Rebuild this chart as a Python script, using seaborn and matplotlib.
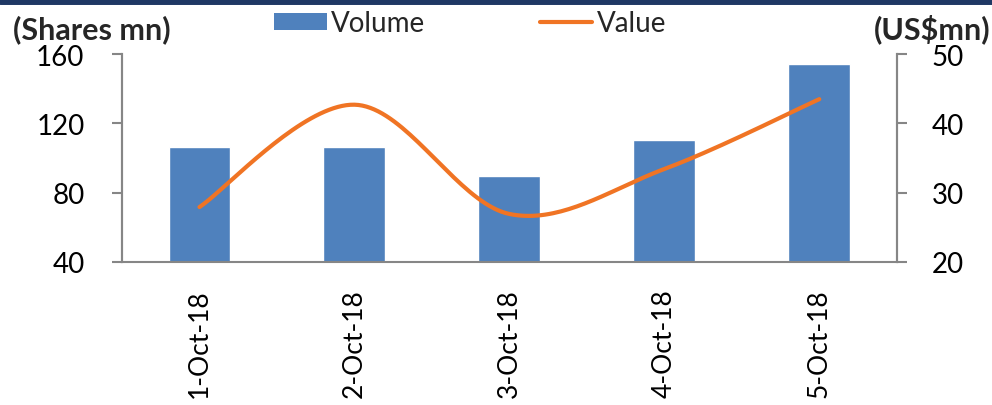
import numpy as np
import pandas as pd
import matplotlib
matplotlib.use("Agg")
import matplotlib.pyplot as plt
from matplotlib.lines import Line2D
from matplotlib.patches import Patch
import seaborn as sns

# Daily trading data
dates = ["1-Oct-18", "2-Oct-18", "3-Oct-18", "4-Oct-18", "5-Oct-18"]
volume = [106.5, 106.5, 89.8, 110.6, 154.4]   # shares mn
value = [27.9, 42.7, 26.9, 33.4, 43.5]        # US$ mn

BAR_COLOR = "#4F81BD"
LINE_COLOR = "#F07424"
AXIS_COLOR = "#868686"
FONT = "Lato"

sns.set_theme(style="white")
plt.rcParams["font.family"] = [FONT, "DejaVu Sans"]


def smooth_curve(xs, ys, steps=40):
    """Bezier smoothing through every point (tension 1/6, like office charts)."""
    xs = np.asarray(xs, float)
    ys = np.asarray(ys, float)
    px = np.concatenate([[xs[0]], xs, [xs[-1]]])
    py = np.concatenate([[ys[0]], ys, [ys[-1]]])
    out_x, out_y = [], []
    t = np.linspace(0, 1, steps)
    for i in range(1, len(px) - 2):
        p0 = np.array([px[i], py[i]])
        p3 = np.array([px[i + 1], py[i + 1]])
        c1 = p0 + (np.array([px[i + 1], py[i + 1]]) - np.array([px[i - 1], py[i - 1]])) / 6
        c2 = p3 - (np.array([px[i + 2], py[i + 2]]) - np.array([px[i], py[i]])) / 6
        b = ((1 - t) ** 3)[:, None] * p0 + (3 * (1 - t) ** 2 * t)[:, None] * c1 \
            + (3 * (1 - t) * t ** 2)[:, None] * c2 + (t ** 3)[:, None] * p3
        out_x.extend(b[:, 0])
        out_y.extend(b[:, 1])
    return np.array(out_x), np.array(out_y)


df = pd.DataFrame({"date": dates, "volume": volume, "value": value})

fig = plt.figure(figsize=(9.92, 4.06), dpi=100)
ax = fig.add_axes([0.123, 0.353, 0.781, 0.511])

sns.barplot(data=df, x="date", y="volume", color=BAR_COLOR, width=0.4,
            saturation=1, ax=ax, zorder=2)
ax.set_xlim(-0.5, len(dates) - 0.5)
ax.set_ylim(40, 160)
ax.set_yticks([40, 80, 120, 160])
ax.set_xlabel("")
ax.set_ylabel("")

ax2 = ax.twinx()
sx, sy = smooth_curve(range(len(dates)), value)
ax2.plot(sx, sy, color=LINE_COLOR, lw=3, solid_capstyle="round", zorder=3)
ax2.set_ylim(20, 50)
ax2.set_yticks([20, 30, 40, 50])

# category ticks between bars
ax.set_xticks(np.arange(-0.5, len(dates), 1.0), minor=True)
ax.tick_params(axis="x", which="minor", length=9, width=1.5, color=AXIS_COLOR,
               direction="out")
ax.tick_params(axis="x", which="major", length=0, pad=19, labelsize=19,
               labelrotation=90, labelcolor="black")
for lbl in ax.get_xticklabels():
    lbl.set_verticalalignment("top")

ax.tick_params(axis="y", length=7, width=1.5, color=AXIS_COLOR, labelsize=20,
               pad=20, labelcolor="black", left=True)
ax2.tick_params(axis="y", length=7, width=1.5, color=AXIS_COLOR, labelsize=20,
                pad=18, labelcolor="black", right=True)

for a in (ax, ax2):
    for side, sp in a.spines.items():
        sp.set_color(AXIS_COLOR)
        sp.set_linewidth(1.5)
    a.spines["top"].set_visible(False)
ax2.spines["bottom"].set_visible(False)
ax.set_zorder(ax2.get_zorder() - 1)
ax2.patch.set_visible(False)
ax.patch.set_visible(False)

# axis unit titles
fig.text(0.013, 0.928, "(Shares mn)", fontsize=22, fontweight="bold",
         ha="left", va="center", family=[FONT, "DejaVu Sans"])
fig.text(0.998, 0.928, "(US\\$mn)", fontsize=22, fontweight="bold",
         ha="right", va="center", family=[FONT, "DejaVu Sans"])

# legend
handles = [Patch(facecolor=BAR_COLOR, edgecolor="none"),
           Line2D([0], [0], color=LINE_COLOR, lw=3)]
leg = fig.legend(handles, ["Volume", "Value"], loc="center",
                 bbox_to_anchor=(0.474, 0.94), ncol=2, frameon=False,
                 fontsize=20, handlelength=1.9, handleheight=0.6,
                 handletextpad=0.15, columnspacing=4.1)

# rule along the top edge
fig.add_artist(Line2D([0, 1], [0.996, 0.996], color="#1F3864", lw=5,
                      transform=fig.transFigure))

fig.savefig("out.png", dpi=100)
